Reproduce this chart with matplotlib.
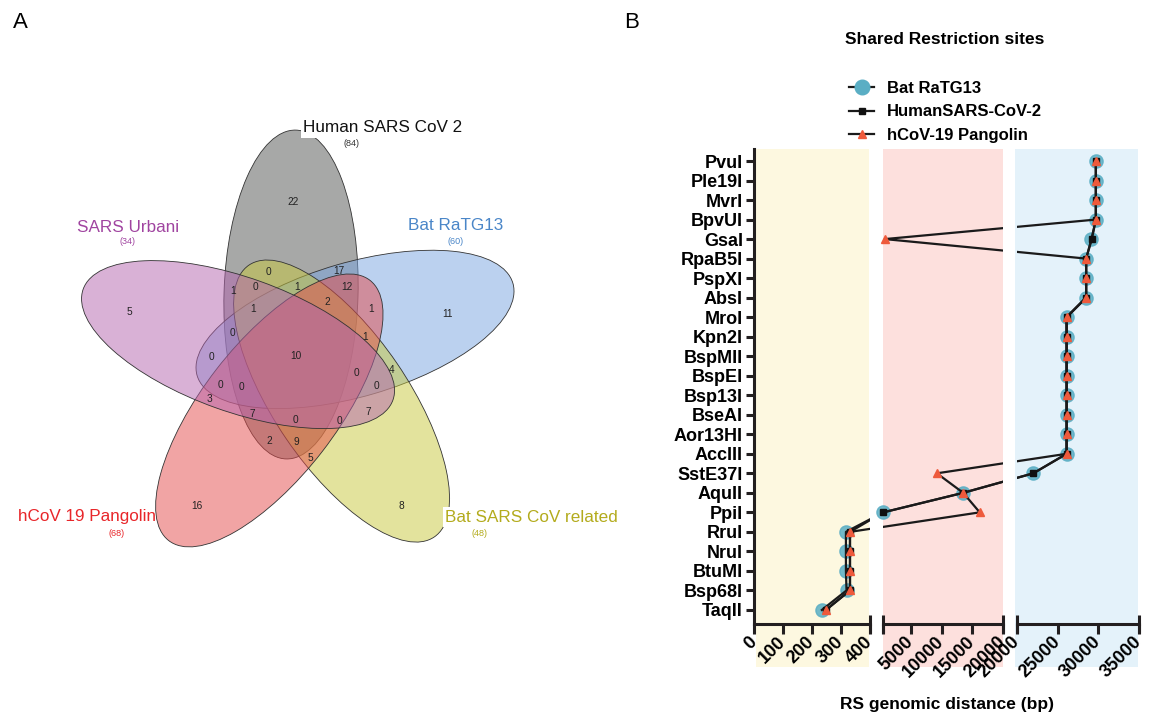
import matplotlib
matplotlib.use("Agg")
import matplotlib.pyplot as plt
from matplotlib.patches import Ellipse, Rectangle
from matplotlib.lines import Line2D
import numpy as np

plt.rcParams['font.family'] = ['Liberation Sans', 'DejaVu Sans']

W, H = 1154, 716

# ---- panel A data (5-set venn) ----
set_names = ['Human SARS CoV 2', 'SARS Urbani', 'hCoV 19 Pangolin', 'Bat SARS CoV related', 'Bat RaTG13']
set_sizes = [84, 34, 68, 48, 60]
fill_colors = ['#505250', '#b464af', '#e44b4b', '#c8c83c', '#78a5e1']
text_colors = ['#111111', '#a044a0', '#e8262a', '#b3ab1c', '#4a86c8']

venn_counts = [22, 5, 16, 8, 11, 0, 17, 1, 0, 1, 12, 2, 1, 1, 0, 1,
               0, 10, 0, 4, 0, 0, 0, 3, 7, 0, 0, 7, 2, 9, 5]
# where each count sits (pixels from top-left)
venn_pos = [(293, 202), (129, 312), (197, 506), (401, 506), (448, 314),
            (268, 272), (339, 271), (233, 291), (255, 287), (297, 287),
            (347, 287), (327, 302), (253, 309), (371, 309), (232, 333),
            (365, 337), (211, 357), (296, 356), (356, 373), (392, 370),
            (220, 385), (241, 387), (376, 386), (209, 399), (252, 414),
            (295, 420), (339, 421), (368, 412), (269, 441), (296, 442),
            (310, 458)]

# ---- panel B data ----
enzymes = ['PvuI', 'Ple19I', 'MvrI', 'BpvUI', 'GsaI', 'RpaB5I', 'PspXI', 'AbsI',
           'MroI', 'Kpn2I', 'BspMII', 'BspEI', 'Bsp13I', 'BseAI', 'Aor13HI', 'AccIII',
           'SstE37I', 'AquII', 'PpiI', 'RruI', 'NruI', 'BtuMI', 'Bsp68I', 'TaqII']
bat = [29700, 29700, 29700, 29700, 29150, 28500, 28500, 28500,
       26100, 26100, 26100, 26100, 26100, 26100, 26100, 26100,
       22000, 13500, 450, 317, 317, 317, 319, 234]
human = [29700, 29700, 29700, 29700, 29200, 28500, 28500, 28500,
         26100, 26100, 26100, 26100, 26100, 26100, 26100, 26100,
         22000, 13500, 450, 331, 331, 331, 331, 248]
pangolin = [29700, 29700, 29700, 29700, 700, 28500, 28500, 28500,
            26100, 26100, 26100, 26100, 26100, 26100, 26100, 26100,
            9200, 13500, 16200, 331, 331, 331, 331, 248]

fig = plt.figure(figsize=(W / 100, H / 100), dpi=100)

# ================= A =================
axv = fig.add_axes([0, 0, 0.55, 1])
axv.set_xlim(0, 0.55 * W)
axv.set_ylim(0, H)
axv.axis('off')

cx, cy, rad = 299, H - 356, 62
for k in [0, 4, 3, 2, 1]:
    a_pos = np.radians(97.4 + 72 * k)
    ex = cx + rad * np.cos(a_pos)
    ey = cy + rad * np.sin(a_pos)
    axv.add_patch(Ellipse((ex, ey), 329, 134, angle=88.3 + 72 * k,
                          facecolor=fill_colors[k], alpha=0.5, edgecolor='none'))
    axv.add_patch(Ellipse((ex, ey), 329, 134, angle=88.3 + 72 * k,
                          facecolor='none', edgecolor='#333333', lw=0.6))

for n, (px, py) in zip(venn_counts, venn_pos):
    axv.text(px, H - py, str(n), ha='center', va='center', fontsize=7.3, color='#222222')

name_pos = [(303, 128, 'left'), (128, 227, 'center'), (87, 517, 'center'),
            (445, 517, 'left'), (456, 225, 'center')]
size_pos = [(352, 143), (128, 241), (117, 533), (480, 534), (456, 241)]
for i in range(5):
    nx, ny, ha = name_pos[i]
    t = axv.text(nx, H - ny, set_names[i], ha=ha, va='center', fontsize=12.3,
                 color=text_colors[i], zorder=5)
    if i in (0, 3):
        t.set_bbox(dict(facecolor='white', edgecolor='none', pad=1.5))
    sx, sy = size_pos[i]
    axv.text(sx, H - sy, '(%d)' % set_sizes[i], ha='center', va='center',
             fontsize=6.5, color=text_colors[i] if i else '#333333', zorder=5)

fig.text(20 / W, 1 - 23 / H, 'A', fontsize=16, ha='center', va='center')
fig.text(632 / W, 1 - 22 / H, 'B', fontsize=16, ha='center', va='center')

# ================= B (broken x axis) =================
seg_limits = [(0, 400), (400, 20000), (20000, 35000)]
seg_ticks = [[0, 100, 200, 300, 400], [400, 5000, 10000, 15000, 20000],
             [20000, 25000, 30000, 35000]]
seg_px = [(754, 870), (883, 1003), (1017, 1139)]
bg = [(756, 869, '#fdf8e0'), (883, 1003, '#fde0dd'), (1015, 1138, '#e4f2fa')]
ink = '#231f20'

for x0, x1, c in bg:
    fig.patches.append(Rectangle((x0 / W, 1 - 667 / H), (x1 - x0) / W, (667 - 149) / H,
                                 transform=fig.transFigure, facecolor=c,
                                 edgecolor='none', zorder=-1))

yy = np.arange(len(enzymes))
top_px, bot_px = 149, 624
axes = []
for s, (lo, hi) in enumerate(seg_limits):
    x0, x1 = seg_px[s]
    ax = fig.add_axes([x0 / W, 1 - bot_px / H, (x1 - x0) / W, (bot_px - top_px) / H])
    ax.set_facecolor('none')
    ax.set_xlim(lo, hi)
    ax.set_ylim((bot_px - 161) / 19.52, (top_px - 161) / 19.52)
    axes.append(ax)


def seg_of(v):
    if v <= 400:
        return 0
    if v <= 20000:
        return 1
    return 2


# connecting lines are straight in screen space across the breaks
for series in (bat, human, pangolin):
    disp = np.array([axes[seg_of(v)].transData.transform((v, yv))
                     for v, yv in zip(series, yy)])
    for ax in axes:
        pts = ax.transData.inverted().transform(disp)
        ax.plot(pts[:, 0], pts[:, 1], color='#1a1a1a', lw=1.6, zorder=2)

for s, ax in enumerate(axes):
    for series, mk, ms, col, al, z in ((bat, 'o', 9.5, '#5aaec4', 0.85, 1),
                                        (human, 's', 4.5, '#111111', 1, 3),
                                        (pangolin, '^', 5.5, '#ee5a3c', 1, 4)):
        arr = np.array(series)
        m = np.array([seg_of(v) == s for v in arr])
        ax.plot(arr[m], yy[m], mk, ms=ms, color=col, alpha=al, mec=col,
                zorder=z, clip_on=False, lw=0)
    lo, hi = seg_limits[s]
    for sp in ['top', 'right']:
        ax.spines[sp].set_visible(False)
    ax.spines['bottom'].set_linewidth(2.2)
    ax.spines['bottom'].set_color(ink)
    ax.set_xticks(seg_ticks[s])
    labs = [str(t) for t in seg_ticks[s]]
    if s == 1:
        labs[0] = ''
    ax.set_xticklabels(labs, rotation=45, ha='right', va='center',
                       rotation_mode='anchor', fontweight='bold', fontsize=13)
    ends = [hi] if s == 0 else [lo, hi]
    ax.set_xticks(ends, minor=True)
    ax.xaxis.remove_overlapping_locs = False
    ax.tick_params(axis='x', which='major', direction='out', length=7, width=2.2,
                   color=ink, pad=4)
    ax.tick_params(axis='x', which='minor', direction='inout', length=13, width=2.2,
                   color=ink)
    if s == 0:
        ax.spines['left'].set_linewidth(2.2)
        ax.spines['left'].set_color(ink)
        ax.set_yticks(yy)
        ax.set_yticklabels(enzymes, fontweight='bold', fontsize=13)
        ax.tick_params(axis='y', direction='out', length=6, width=2.2, color=ink, pad=2)
    else:
        ax.spines['left'].set_visible(False)
        ax.set_yticks([])

handles = [Line2D([], [], color='#1a1a1a', lw=1.6, marker='o', ms=10.5,
                  mfc='#5aaec4', mec='#5aaec4'),
           Line2D([], [], color='#1a1a1a', lw=1.6, marker='s', ms=4.5,
                  mfc='#111111', mec='#111111'),
           Line2D([], [], color='#1a1a1a', lw=1.6, marker='^', ms=5.5,
                  mfc='#ee5a3c', mec='#ee5a3c')]
fig.legend(handles, ['Bat RaTG13', 'HumanSARS-CoV-2', 'hCoV-19 Pangolin'],
           loc='upper left', bbox_to_anchor=(849 / W, 1 - 81 / H), frameon=False,
           prop={'weight': 'bold', 'size': 12}, handlelength=1.5,
           handletextpad=0.8, labelspacing=0.5, borderaxespad=0, borderpad=0)

fig.text(945 / W, 1 - 40 / H, 'Shared Restriction sites', ha='center', va='center',
         fontweight='bold', fontsize=12.5)
fig.text(947 / W, 1 - 705 / H, 'RS genomic distance (bp)', ha='center', va='center',
         fontweight='bold', fontsize=12.5)

fig.savefig('out.png', dpi=100)
